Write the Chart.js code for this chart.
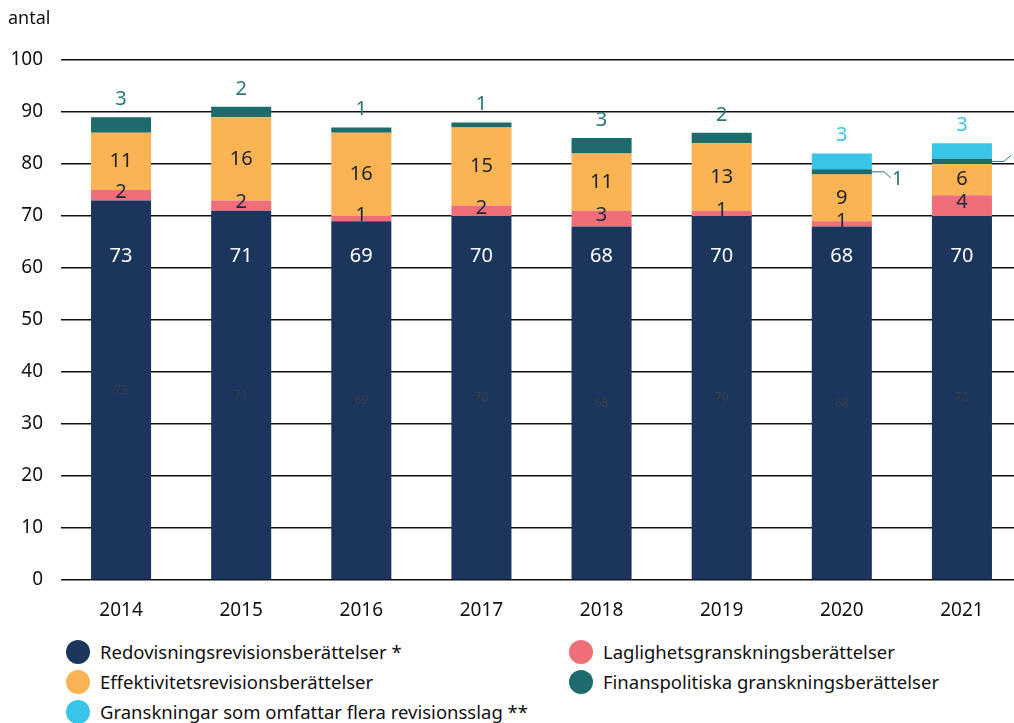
<!DOCTYPE html>
<html>
<head>
<meta charset="utf-8">
<script src="https://cdn.jsdelivr.net/npm/chart.js@4/dist/chart.umd.min.js"></script>
<style>
  body { margin: 0; background: #fff; font-family: "Noto Sans", sans-serif; overflow: hidden; }
  #wrap { position: relative; width: 1014px; height: 723px; overflow: hidden; }
  #box { position: absolute; left: 0; top: 0; width: 1022px; height: 625px; }
  #unit { position: absolute; left: 8px; top: 5px; font-size: 18px; color: #111; }
  .leg { position: absolute; font-size: 18.5px; color: #111; white-space: nowrap; }
  .leg span { position: absolute; left: -34px; top: 1px; width: 24px; height: 24px; border-radius: 50%; }
</style>
</head>
<body>
<div id="wrap">
  <div id="box"><canvas id="bar-chart"></canvas></div>
  <div id="unit">antal</div>
  <div id="legend"></div>
</div>
<script>
var years = ["2014", "2015", "2016", "2017", "2018", "2019", "2020", "2021"];
var redovisning = [73, 71, 69, 70, 68, 70, 68, 70];
var laglighet = [2, 2, 1, 2, 3, 1, 1, 4];
var effektivitet = [11, 16, 16, 15, 11, 13, 9, 6];
var finanspolitiska = [3, 2, 1, 1, 3, 2, 1, 1];
var flera = [0, 0, 0, 0, 0, 0, 3, 3];
var yTicks = [0, 10, 20, 30, 40, 50, 60, 70, 80, 90, 100];

var navy = "#1b355d", pink = "#f06e78", orange = "#fbb454", teal = "#1e6b6b", cyan = "#38c5e8";

// legend, two columns
var legendItems = [
  ["Redovisningsrevisionsberättelser *", navy, 100, 639],
  ["Laglighetsgranskningsberättelser", pink, 603, 639],
  ["Effektivitetsrevisionsberättelser", orange, 100, 669],
  ["Finanspolitiska granskningsberättelser", teal, 603, 669],
  ["Granskningar som omfattar flera revisionsslag **", cyan, 100, 699]
];
var lg = document.getElementById("legend");
legendItems.forEach(function (it) {
  var d = document.createElement("div");
  d.className = "leg";
  d.style.left = it[2] + "px";
  d.style.top = it[3] + "px";
  d.innerHTML = '<span style="background:' + it[1] + '"></span>' + it[0];
  lg.appendChild(d);
});

var labelPlugin = {
  id: "labels",
  afterDatasetsDraw: function (chart) {
    var ctx = chart.ctx;
    var y = chart.scales.y;
    ctx.save();
    ctx.textAlign = "center";
    ctx.textBaseline = "middle";
    years.forEach(function (yr, i) {
      var bar0 = chart.getDatasetMeta(0).data[i];
      var x = bar0.x;
      // faint centre label
      ctx.font = "12px 'Noto Sans'";
      ctx.fillStyle = "#3a3f48";
      ctx.fillText(redovisning[i], x, y.getPixelForValue(redovisning[i] / 2));
      ctx.font = "20px 'Noto Sans'";
      ctx.fillStyle = "#fff";
      ctx.fillText(redovisning[i], x, y.getPixelForValue(62.3));
      // laglighet
      var b1 = chart.getDatasetMeta(1).data[i];
      ctx.fillStyle = "#1b2540";
      ctx.fillText(laglighet[i], x, (b1.y + b1.base) / 2 - 3);
      // effektivitet
      var b2 = chart.getDatasetMeta(2).data[i];
      ctx.fillStyle = "#222";
      ctx.fillText(effektivitet[i], x, (b2.y + b2.base) / 2);
      // finanspolitiska
      var b3 = chart.getDatasetMeta(3).data[i];
      ctx.fillStyle = "#2a7676";
      if (flera[i] > 0) {
        var ly = (b3.y + b3.base) / 2;
        var xr = x + b3.width / 2;
        var dir = (i === years.length - 1) ? -1 : 1; // last one goes up
        ctx.strokeStyle = "#2a7676";
        ctx.lineWidth = 1;
        ctx.beginPath();
        ctx.moveTo(xr, ly);
        ctx.lineTo(xr + 12, ly);
        ctx.lineTo(xr + 19, ly + 6 * dir);
        ctx.stroke();
        ctx.textAlign = "left";
        ctx.fillText(finanspolitiska[i], xr + 20, ly + 7 * dir);
        ctx.textAlign = "center";
        var b4 = chart.getDatasetMeta(4).data[i];
        ctx.fillStyle = cyan;
        ctx.fillText(flera[i], x, b4.y - 18);
      } else {
        ctx.fillText(finanspolitiska[i], x, b3.y - 18);
      }
    });
    ctx.restore();
  }
};

new Chart(document.getElementById("bar-chart"), {
  type: "bar",
  data: {
    labels: years,
    datasets: [
      { label: "Redovisningsrevisionsberättelser *", data: redovisning, backgroundColor: navy },
      { label: "Laglighetsgranskningsberättelser", data: laglighet, backgroundColor: pink },
      { label: "Effektivitetsrevisionsberättelser", data: effektivitet, backgroundColor: orange },
      { label: "Finanspolitiska granskningsberättelser", data: finanspolitiska, backgroundColor: teal },
      { label: "Granskningar som omfattar flera revisionsslag **", data: flera, backgroundColor: cyan }
    ]
  },
  options: {
    responsive: true,
    maintainAspectRatio: false,
    animation: false,
    barPercentage: 0.5,
    categoryPercentage: 1,
    layout: { padding: { top: 60, right: 0 } },
    plugins: { legend: { display: false }, tooltip: { enabled: false } },
    scales: {
      x: {
        stacked: true,
        grid: { display: false },
        border: { display: false },
        ticks: { color: "#111", font: { size: 19, family: "Noto Sans" }, padding: 11 },
        afterFit: function (s) { s.height = 45; }
      },
      y: {
        stacked: true,
        min: 0,
        max: 100,
        afterBuildTicks: function (s) { s.ticks = yTicks.map(function (v) { return { value: v }; }); },
        grid: { color: "#111", lineWidth: 1.5, drawTicks: false },
        border: { display: false },
        ticks: { color: "#111", font: { size: 19, family: "Noto Sans" }, padding: 18 },
        afterFit: function (s) { s.width = 61; }
      }
    }
  },
  plugins: [labelPlugin]
});
</script>
</body>
</html>
